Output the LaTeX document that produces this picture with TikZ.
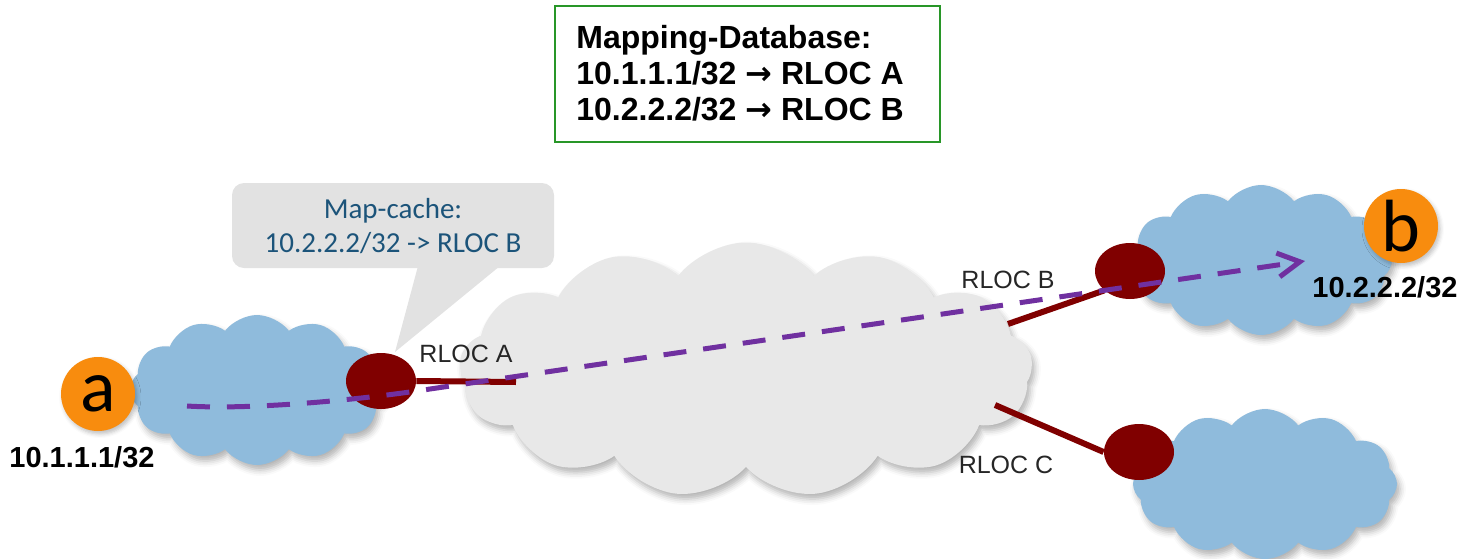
\documentclass[tikz,border=0pt]{standalone}
\usepackage{fontspec}
\setmainfont{Liberation Sans}
\newfontfamily\calibrifont{Carlito}
\newfontfamily\arrowfont{DejaVu Sans}
\usetikzlibrary{shapes.symbols,shapes.geometric,arrows.meta,shadows.blur}

\definecolor{cloudblue}{RGB}{143,187,220}
\definecolor{cloudgray}{RGB}{232,232,232}
\definecolor{rlocred}{RGB}{128,0,0}
\definecolor{flowpurple}{RGB}{112,48,160}
\definecolor{hostorange}{RGB}{248,140,14}
\definecolor{dbgreen}{RGB}{40,150,40}
\definecolor{calloutgray}{RGB}{226,226,226}
\definecolor{callouttext}{RGB}{28,84,122}
\definecolor{labelgray}{RGB}{38,38,38}

\newcommand{\maparrow}{{\arrowfont\bfseries →}}

\begin{document}
\begin{tikzpicture}[x=0.5pt,y=-0.5pt,
  softshadow/.style={blur shadow={shadow xshift=1.5pt,shadow yshift=-2.5pt,
      shadow blur radius=3pt,shadow opacity=30}},
  netcloud/.style={cloud,cloud puffs=12,cloud puff arc=105,cloud ignores aspect,
      inner sep=0pt,draw=none,softshadow},
  site/.style={netcloud,fill=cloudblue},
  core/.style={netcloud,cloud puffs=13,fill=cloudgray},
  xtr/.style={ellipse,fill=rlocred,minimum width=35pt,minimum height=28pt,inner sep=0pt},
  host/.style={circle,fill=hostorange,minimum size=37pt,inner sep=0pt,
      font=\calibrifont\fontsize{37}{37}\selectfont,
      blur shadow={shadow xshift=1pt,shadow yshift=-1.5pt,shadow blur radius=2pt,shadow opacity=25}},
  rlocline/.style={draw=rlocred,line width=3pt},
  flow/.style={draw=flowpurple,line width=2.5pt,dash pattern=on 11.5pt off 8.5pt,
      -{Straight Barb[length=11pt,width=12pt]}},
  rloclabel/.style={font=\fontsize{12.5}{14}\selectfont,text=labelgray,inner sep=0pt,anchor=base},
  eidlabel/.style={font=\bfseries\fontsize{14.5}{16}\selectfont,inner sep=0pt,anchor=base},
  cachetext/.style={font=\calibrifont\fontsize{14.5}{17}\selectfont,text=callouttext,inner sep=0pt,anchor=base},
  dbbox/.style={draw=dbgreen,line width=1pt,minimum width=192.5pt,minimum height=68pt,inner sep=0pt},
  dbtext/.style={font=\bfseries\fontsize{16}{18}\selectfont,inner sep=0pt,anchor=base west}
]
\useasboundingbox (0,0) rectangle (1464,558);
\clip (0,0) rectangle (1464,558);

% mapping database
\node[dbbox] (db) at (747.5,74) {};
\node[dbtext] (db1) at (576,48) {Mapping-Database:};
\node[dbtext] (db2) at (576,84) {10.1.1.1/32 \maparrow\ RLOC A};
\node[dbtext] (db3) at (576,120) {10.2.2.2/32 \maparrow\ RLOC B};

% clouds
\node[core,minimum width=286.5pt,minimum height=127.5pt] (core) at (746,370) {};
\node[site,minimum width=127pt,minimum height=75pt] (siteA) at (257,390) {};
\node[site,minimum width=131pt,minimum height=75pt] (siteB) at (1261,260) {};
\node[site,minimum width=132pt,minimum height=75pt] (siteC) at (1265,484) {};

% map-cache callout
\fill[calloutgray,rounded corners=6pt] (232,183) rectangle (554,268);
\coordinate (tipA) at (395,352);
\fill[calloutgray] (418,266) -- (500,266) -- (tipA) -- cycle;
\node[cachetext] (mc1) at (393,218) {Map-cache:};
\node[cachetext] (mc2) at (393,252) {10.2.2.2/32 -> RLOC B};

% attachment points on the core
\coordinate (coreA) at (516,382);
\coordinate (coreB) at (1008,324);
\coordinate (coreC) at (995,405);

% routers
\node[xtr] (xtrA) at (381,381) {};
\node[xtr] (xtrB) at (1130,271) {};
\node[xtr] (xtrC) at (1139,452) {};
\draw[rlocline] (xtrA.east) -- (coreA);
\draw[rlocline] (coreB) -- (xtrB.217);
\draw[rlocline] (coreC) -- (xtrC.west);

% hosts
\node[host] (a) at (98,394) {a};
\node[host] (b) at (1401,226) {b};

% traffic flow
\coordinate (fstart) at (187,406);
\coordinate (fend) at (1305,261);
\draw[flow] (fstart) .. controls (250,410) and (360,400) .. (430,389) -- (fend);

% labels
\node[rloclabel] (lA) at (466,362) {RLOC A};
\node[rloclabel] (lB) at (1008,288) {RLOC B};
\node[rloclabel] (lC) at (1006,473) {RLOC C};
\node[eidlabel] (pa) at (82,467) {10.1.1.1/32};
\node[eidlabel] (pb) at (1385,297) {10.2.2.2/32};
\end{tikzpicture}
\end{document}
